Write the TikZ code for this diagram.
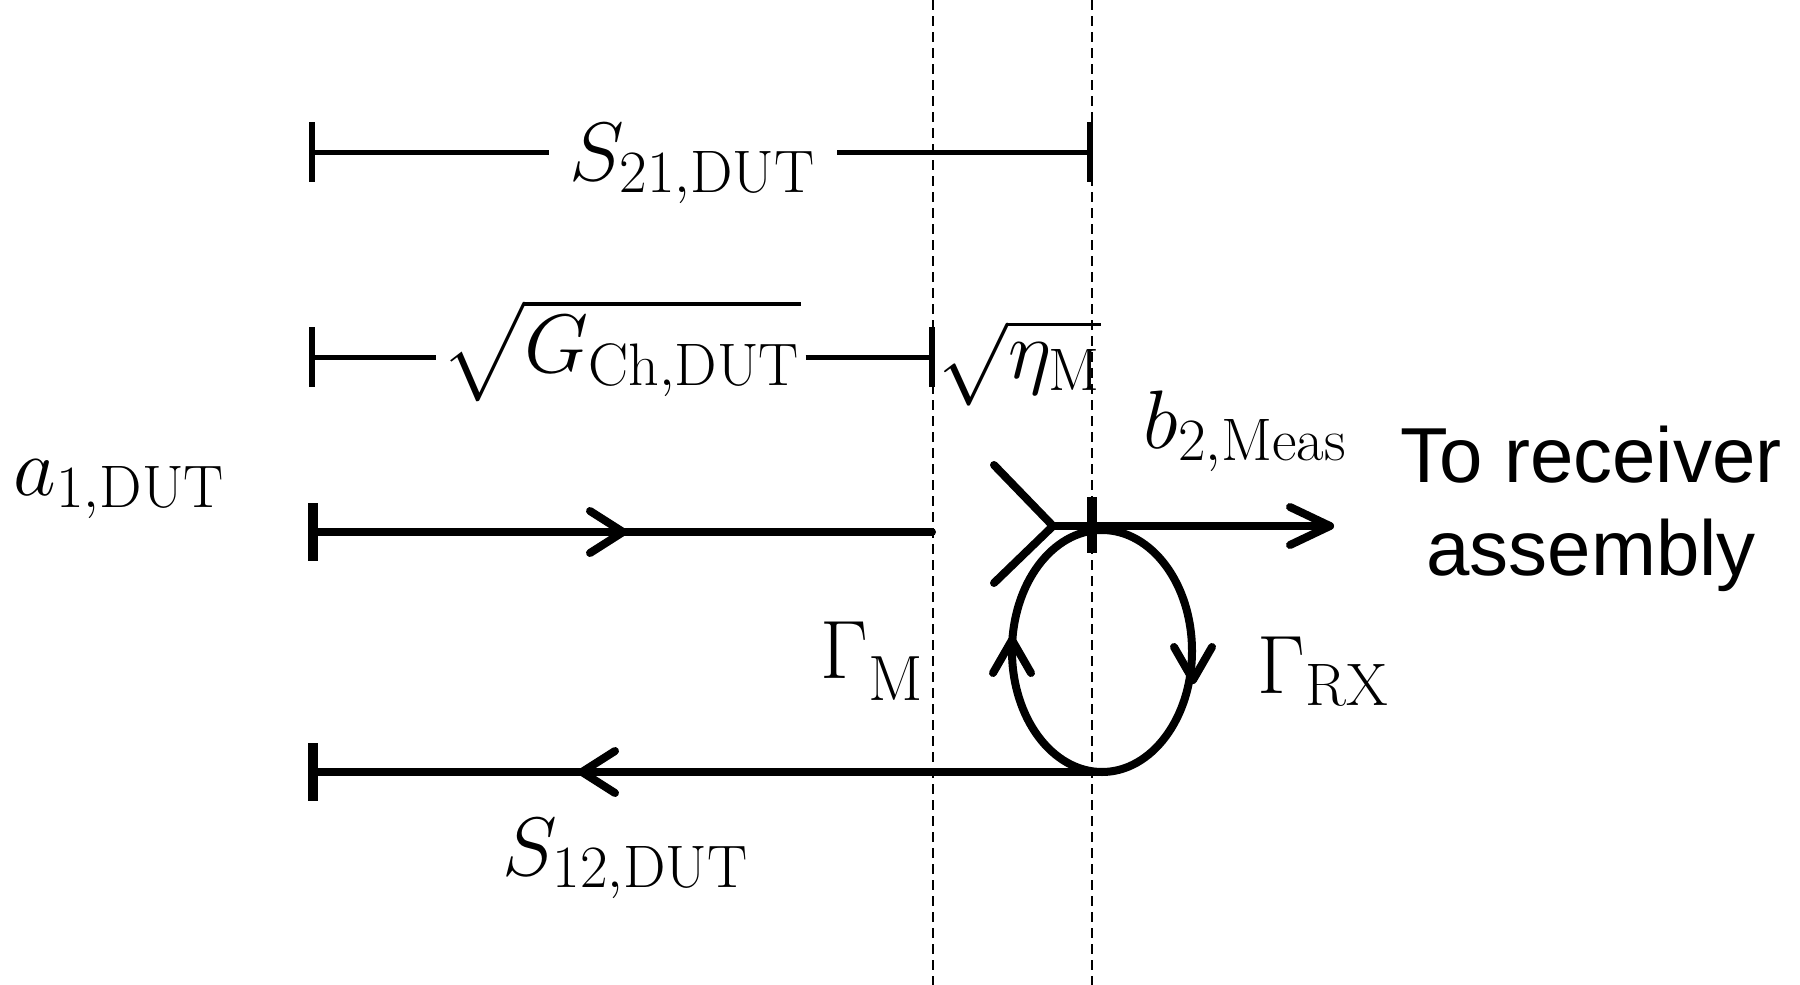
\documentclass[tikz,border=0pt]{standalone}
\usepackage{exscale}
\usepackage{fontspec}
\newfontfamily\arialfont{Liberation Sans}
\DeclareMathSizes{20}{20}{15}{11}
\usetikzlibrary{calc}
\begin{document}
\begin{tikzpicture}[x=0.25pt,y=-0.25pt,
  every node/.style={inner sep=0pt, font=\fontsize{20}{24}\selectfont},
  dim/.style={line width=1.25pt},
  dimtick/.style={line width=1.5pt},
  sig/.style={line width=2pt, line cap=round, line join=round},
  sigtick/.style={line width=2.5pt},
  guide/.style={line width=0.7pt, dash pattern=on 2.5pt off 1.5pt}]
\useasboundingbox (0,0) rectangle (1800,985);

% vertical reference planes
\coordinate (g1t) at (933,0);  \coordinate (g1b) at (933,985);
\coordinate (g2t) at (1092,0); \coordinate (g2b) at (1092,985);
\draw[guide] (g1t) -- (g1b);
\draw[guide] (g2t) -- (g2b);

% row 1: S21
\coordinate (r1l) at (312,152); \coordinate (r1r) at (1090,152);
\node[anchor=base, inner xsep=5pt] (s21) at (693,180) {$S_{\mathrm{21{,}DUT}}$};
\draw[dim] (r1l) -- (s21.west |- r1l);
\draw[dim] (s21.east |- r1r) -- (r1r);
\draw[dimtick] ($(r1l)+(0,-30)$) -- ($(r1l)+(0,30)$);
\draw[dimtick] ($(r1r)+(0,-30)$) -- ($(r1r)+(0,30)$);

% row 2: sqrt G, sqrt eta
\coordinate (r2l) at (312,357); \coordinate (r2m) at (932,357);
\node[anchor=base, inner xsep=1pt] (sg) at (621,372) {$\sqrt{G_{\mathrm{Ch{,}DUT}}}$};
\node[anchor=base] (se) at (1020,378) {$\sqrt{\eta_{\mathrm{M}}}$};
\draw[dim] (r2l) -- (sg.west |- r2l);
\draw[dim] (sg.east |- r2l) -- (r2m);
\draw[dimtick] ($(r2l)+(0,-30)$) -- ($(r2l)+(0,30)$);
\draw[dimtick] ($(r2m)+(0,-30)$) -- ($(r2m)+(0,30)$);

% row 3: incident wave
\node[anchor=base west] (a1) at (13,495) {$a_{\mathrm{1{,}DUT}}$};
\coordinate (r3l) at (313,532); \coordinate (r3r) at (932,532);
\coordinate (r3a) at (623,532);
\draw[sig] (r3l) -- (r3r);
\draw[sigtick] ($(r3l)+(0,-29)$) -- ($(r3l)+(0,29)$);
\draw[sig] ($(r3a)+(-33,-21)$) -- (r3a) -- ($(r3a)+(-33,21)$);

% junction and output
\coordinate (jy) at (1053,526); \coordinate (ju) at (994,465); \coordinate (jd) at (994,583);
\coordinate (jt) at (1092,526); \coordinate (out) at (1330,526);
\draw[sig] (ju) -- (jy) -- (jd);
\draw[sig] (jy) -- (out);
\draw[sig] ($(out)+(-40,-19)$) -- (out) -- ($(out)+(-40,19)$);
\draw[sigtick] ($(jt)+(0,-29)$) -- ($(jt)+(0,27)$);
\node[anchor=base west] (b2) at (1143,448) {$b_{\mathrm{2{,}Meas}}$};
\node[anchor=base, align=center, font=\arialfont\fontsize{19.5}{23.25}\selectfont] (rx) at (1591,575) {To receiver\\assembly};

% reflection loop
\coordinate (ec) at (1102,651);
\draw[sig] (ec) ellipse [x radius=22.5pt, y radius=30.25pt];
\coordinate (la) at (1012,640); \coordinate (ra) at (1193,680);
\draw[sig] ($(la)+(-19,33)$) -- (la) -- ($(la)+(19,33)$);
\draw[sig] ($(ra)+(-19,-33)$) -- (ra) -- ($(ra)+(19,-33)$);
\node[anchor=base west] (gm) at (820,678) {$\Gamma$\raisebox{-5.5pt}{\fontsize{16}{19}\selectfont M}};
\node[anchor=base west] (grx) at (1257,693) {$\Gamma_{\mathrm{RX}}$};

% row 4: reflected wave
\coordinate (r4r) at (1102,772); \coordinate (r4l) at (313,772);
\coordinate (r4a) at (582,772);
\draw[sig] (r4r) -- (r4l);
\draw[sigtick] ($(r4l)+(0,-29)$) -- ($(r4l)+(0,29)$);
\draw[sig] ($(r4a)+(33,-21)$) -- (r4a) -- ($(r4a)+(33,21)$);
\node[anchor=base west] (s12) at (502,875) {$S_{\mathrm{12{,}DUT}}$};
\end{tikzpicture}
\end{document}
